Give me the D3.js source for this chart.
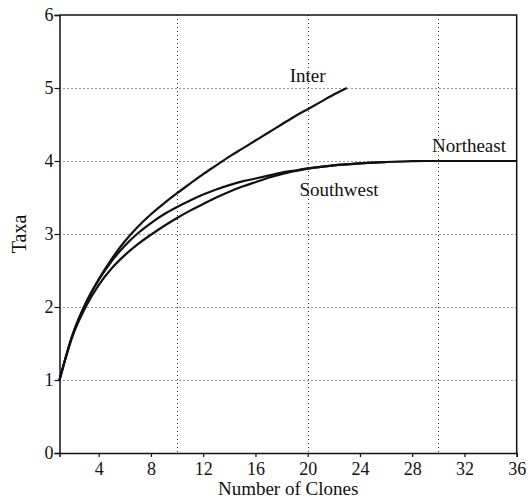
<!DOCTYPE html>
<html>
<head>
<meta charset="utf-8">
<script src="https://cdn.jsdelivr.net/npm/d3@7"></script>
<style>
  html, body { margin: 0; padding: 0; background: #fff; }
  svg { display: block; }
</style>
</head>
<body>
<svg id="chart" width="530" height="498"></svg>
<script>
// rarefaction curves
const clones = d3.range(1, 37);
const interTaxa = [1.00, 1.62, 2.05, 2.38, 2.66, 2.90, 3.10, 3.27, 3.42, 3.56, 3.69, 3.82, 3.94, 4.06,
  4.17, 4.28, 4.39, 4.50, 4.61, 4.71, 4.81, 4.91, 5.00];
const northeastTaxa = [1.00, 1.62, 2.05, 2.37, 2.63, 2.84, 3.01, 3.15, 3.27, 3.37, 3.46, 3.54, 3.61, 3.67,
  3.72, 3.76, 3.80, 3.84, 3.87, 3.90, 3.92, 3.94, 3.955, 3.968, 3.978, 3.986, 3.992, 3.997,
  4.00, 4.00, 4.00, 4.00, 4.00, 4.00, 4.00, 4.00];
const southwestTaxa = [1.00, 1.60, 2.00, 2.30, 2.53, 2.71, 2.86, 2.99, 3.11, 3.22, 3.32, 3.41, 3.50, 3.58,
  3.65, 3.71, 3.77, 3.82, 3.86, 3.895, 3.92, 3.94, 3.955, 3.968, 3.978, 3.985];
const seriesNames = ['Inter', 'Northeast', 'Southwest'];
const xTicks = [4, 8, 12, 16, 20, 24, 28, 32, 36];
const yTicks = [0, 1, 2, 3, 4, 5, 6];
const xGrid = [10, 20, 30];
const yGrid = [1, 2, 3, 4, 5];

const svg = d3.select('#chart');
const margin = { left: 59.5, right: 13.3, top: 15, bottom: 45 };
const width = 530, height = 498;
const font = '"Liberation Serif", "Times New Roman", serif';

const x = d3.scaleLinear().domain([1, 36]).range([margin.left, width - margin.right]);
const y = d3.scaleLinear().domain([0, 6]).range([height - margin.bottom, margin.top]);

// dotted grid
const grid = svg.append('g').attr('class', 'grid')
  .attr('stroke', '#333').attr('stroke-width', 1).attr('stroke-dasharray', '1,3');
grid.selectAll('.gx').data(xGrid).enter().append('line')
  .attr('x1', d => Math.round(x(d)) + 0.5).attr('x2', d => Math.round(x(d)) + 0.5)
  .attr('y1', y(6)).attr('y2', y(0));
grid.selectAll('.gy').data(yGrid).enter().append('line')
  .attr('x1', x(1)).attr('x2', x(36))
  .attr('y1', d => Math.round(y(d)) + 0.5).attr('y2', d => Math.round(y(d)) + 0.5);

// frame top and right
svg.append('path')
  .attr('d', `M${x(1)},${y(6)}H${x(36)}V${y(0)}`)
  .attr('fill', 'none').attr('stroke', '#111').attr('stroke-width', 1.5);

// axes
const xAxis = svg.append('g')
  .attr('transform', `translate(0,${y(0)})`)
  .call(d3.axisBottom(x).tickValues(xTicks).tickSize(4).tickPadding(5));
const yAxis = svg.append('g')
  .attr('transform', `translate(${x(1)},0)`)
  .call(d3.axisLeft(y).tickValues(yTicks).tickFormat(d3.format('d')).tickSize(5).tickPadding(1));
[xAxis, yAxis].forEach(g => {
  g.select('.domain').attr('stroke', '#111').attr('stroke-width', 1.5);
  g.selectAll('.tick line').attr('stroke', '#111').attr('stroke-width', 1.2);
  g.selectAll('.tick text').attr('fill', '#111')
    .style('font-family', font).style('font-size', '18px');
});

// curves
const series = [interTaxa, northeastTaxa, southwestTaxa].map((vals, i) => ({
  name: seriesNames[i],
  values: vals.map((v, j) => ({ n: clones[j], taxa: v })),
}));
const line = d3.line().x(d => x(d.n)).y(d => y(d.taxa)).curve(d3.curveMonotoneX);
svg.append('g').selectAll('path').data(series).enter().append('path')
  .attr('d', d => line(d.values))
  .attr('fill', 'none').attr('stroke', '#111').attr('stroke-width', 2.2);

// curve labels
const labels = svg.append('g').attr('fill', '#111')
  .style('font-family', font).style('font-size', '19px').attr('text-anchor', 'middle');
labels.append('text').attr('x', x(20)).attr('y', y(5.08)).text(seriesNames[0]);
labels.append('text').attr('x', x(32.35)).attr('y', y(4.12)).text(seriesNames[1]);
labels.append('text').attr('x', x(22.4)).attr('y', y(3.52)).text(seriesNames[2]);

// axis titles
svg.append('text')
  .attr('x', (x(1) + x(36)) / 2).attr('y', 495)
  .attr('text-anchor', 'middle').attr('fill', '#111')
  .style('font-family', font).style('font-size', '19px')
  .text('Number of Clones');
svg.append('text')
  .attr('transform', `translate(26,${(y(0) + y(6)) / 2}) rotate(-90)`)
  .attr('text-anchor', 'middle').attr('fill', '#111')
  .style('font-family', font).style('font-size', '20px')
  .text('Taxa');
</script>
</body>
</html>
